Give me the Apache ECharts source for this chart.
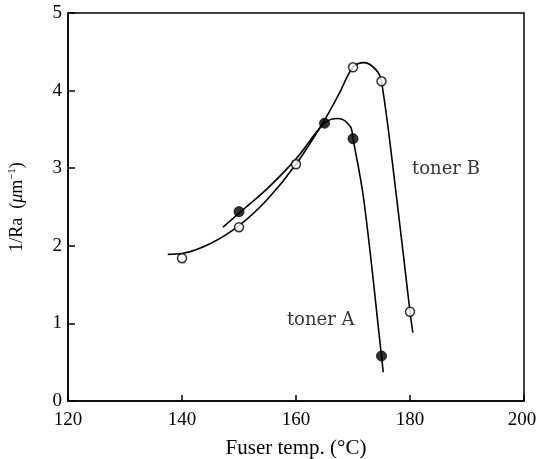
<!DOCTYPE html>
<html><head><meta charset="utf-8">
<script src="https://cdn.jsdelivr.net/npm/echarts@6/dist/echarts.min.js"></script>
<style>html,body{margin:0;padding:0;background:#fff}#c{width:537px;height:459px}</style>
</head><body><div id="c"></div>
<script>
const xTicks = [120, 140, 160, 180, 200];
const yTicks = [0, 1, 2, 3, 4, 5];
const tonerA_pts = [[150, 2.44], [165, 3.58], [170, 3.38], [175, 0.58]];
const tonerB_pts = [[140, 1.84], [150, 2.24], [160, 3.05], [170, 4.30], [175, 4.12], [180, 1.15]];
const curveA = [[147.2, 2.24], [150, 2.42], [155, 2.74], [160, 3.12], [165, 3.58], [167.4, 3.64], [169.5, 3.54], [170, 3.38], [171.9, 2.59], [175, 0.58], [175.3, 0.37]];
const curveB = [[137.5, 1.89], [140, 1.90], [145, 2.03], [150, 2.26], [155, 2.60], [160, 3.05], [165, 3.62], [167.5, 3.95], [170, 4.30], [172, 4.36], [174, 4.27], [175, 4.12], [177.7, 2.59], [180, 1.15], [180.5, 0.88]];
const labels = [{name: 'toner A', pos: [158.4, 1.04]}, {name: 'toner B', pos: [180.35, 2.98]}];

const serif = 'Liberation Serif';
const chart = echarts.init(document.getElementById('c'));
chart.setOption({
  animation: false,
  backgroundColor: '#fff',
  grid: {left: 68, right: 13, top: 13, bottom: 58, outerBoundsMode: 'none', containLabel: false, show: true, borderColor: '#000', borderWidth: 1.5, backgroundColor: 'transparent'},
  xAxis: {
    type: 'value', min: xTicks[0], max: xTicks[xTicks.length - 1], interval: 20,
    axisLine: {show: true, lineStyle: {color: '#000', width: 1.5}},
    axisTick: {show: true, inside: true, length: 6, lineStyle: {color: '#000', width: 1.5}},
    splitLine: {show: false},
    axisLabel: {color: '#000', fontFamily: serif, fontSize: 19, margin: 10,
      formatter: v => v === 200 ? '{r|200}' : String(v), rich: {r: {fontFamily: serif, fontSize: 19, color: '#000', padding: [0, 4, 0, 0]}}},
    name: 'Fuser temp. (°C)', nameLocation: 'middle', nameGap: 37,
    nameTextStyle: {color: '#000', fontFamily: serif, fontSize: 21}
  },
  yAxis: {
    type: 'value', min: yTicks[0], max: yTicks[yTicks.length - 1], interval: 1,
    axisLine: {show: true, lineStyle: {color: '#000', width: 1.5}},
    axisTick: {show: true, inside: true, length: 7, lineStyle: {color: '#000', width: 1.5}},
    splitLine: {show: false},
    axisLabel: {color: '#000', fontFamily: serif, fontSize: 19, margin: 6},
    name: '{a|1/Ra  (}{m|μ}{a|m}{s|−1}{a|)}', nameLocation: 'middle', nameGap: 40,
    nameTextStyle: {
      color: '#000', fontFamily: serif, fontSize: 18,
      rich: {
        a: {fontFamily: serif, fontSize: 18, color: '#000'},
        m: {fontFamily: serif, fontSize: 18, fontStyle: 'italic', color: '#000'},
        s: {fontFamily: serif, fontSize: 11, color: '#000', verticalAlign: 'top', padding: [0, 0, 10, 0]}
      }
    }
  },
  series: [
    {type: 'line', data: curveB, smooth: 0.35, symbol: 'none', lineStyle: {color: '#000', width: 1.6}, z: 2},
    {type: 'line', data: curveA, smooth: 0.35, symbol: 'none', lineStyle: {color: '#000', width: 1.6}, z: 2},
    {type: 'scatter', data: tonerB_pts, symbol: 'circle', symbolSize: 9, itemStyle: {color: '#fff', borderColor: '#000', borderWidth: 1.5}, z: 3},
    {type: 'scatter', data: tonerA_pts, symbol: 'circle', symbolSize: 10, itemStyle: {color: '#000', borderColor: '#000', borderWidth: 1}, z: 3},
    {type: 'scatter', data: labels.map(l => ({name: l.name, value: l.pos})), symbolSize: 0, silent: true,
      label: {show: true, position: 'right', distance: 0, formatter: p => p.name, color: '#000', fontFamily: 'DejaVu Serif', fontSize: 18}}
  ]
});
</script></body></html>
